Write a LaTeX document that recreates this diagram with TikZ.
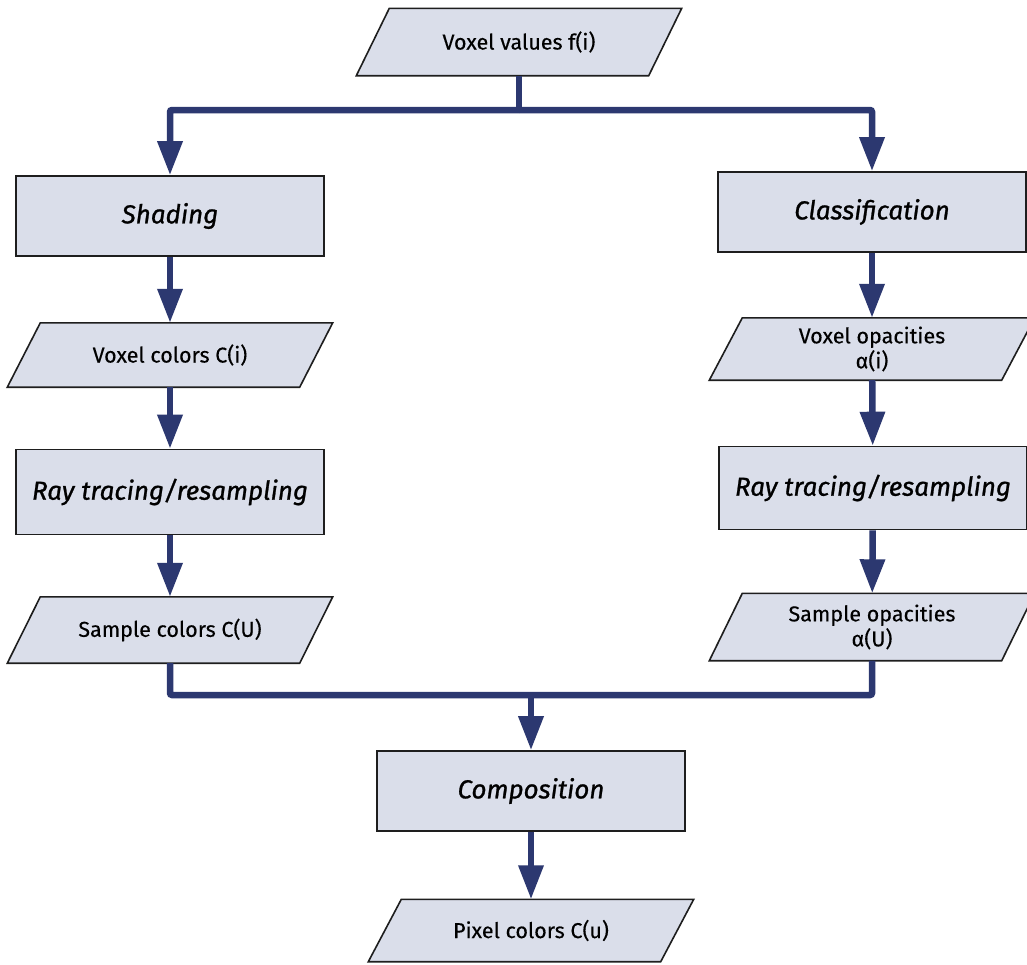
\documentclass[tikz,border=0pt]{standalone}
\usepackage{fontspec}
\setmainfont{Fira Sans}[FakeBold=0.3]
\newfontfamily\procfont{Fira Sans}[FakeBold=1.0]
\usetikzlibrary{arrows.meta,calc}
\definecolor{boxfill}{RGB}{218,222,234}
\definecolor{navy}{RGB}{44,56,112}
\definecolor{edgec}{RGB}{30,30,30}
\pgfdeclarelayer{bg}
\pgfsetlayers{bg,main}
\begin{document}
\begin{tikzpicture}[x=1pt,y=-1pt,
 proc/.style={draw=edgec, line width=1.6pt, fill=boxfill, rectangle,
   minimum width=308pt, minimum height=80pt, inner sep=0pt,
   font=\procfont\fontsize{26}{30}\selectfont\itshape},
 io/.style={rectangle, minimum width=292pt, minimum height=65pt, inner sep=0pt, align=center,
   font=\fontsize{21.5}{25}\selectfont},
 iobox/.style={draw=edgec, line width=1.6pt, fill=boxfill, line join=miter},
 conn/.style={draw=navy, line width=6.5pt, rounded corners=2pt},
 arr/.style={conn, -{Triangle[width=24pt,length=34pt]}},
]
\useasboundingbox (0,0) rectangle (1027,964);

\node[io, minimum height=67pt] (vv) at (519,42) {Voxel values f(i)};
\node[proc] (shade) at (170,216) {Shading};
\node[proc] (class) at (872,212) {Classification};
\node[io, minimum height=64pt] (vc) at (170,355) {Voxel colors C(i)};
\node[io, minimum height=62pt] (vo) at (872,349) {Voxel opacities\\α(i)};
\node[proc, minimum height=85pt] (rayl) at (170,492) {Ray tracing/resampling};
\node[proc, minimum height=83pt] (rayr) at (873,488) {Ray tracing/resampling};
\node[io, minimum height=66pt] (sc) at (170,630) {Sample colors C(U)};
\node[io, minimum height=67pt] (so) at (872,627) {Sample opacities\\α(U)};
\node[proc] (comp) at (531,791) {Composition};
\node[io, minimum height=62pt] (pc) at (531,930.5) {Pixel colors C(u)};

\begin{pgfonlayer}{bg}
\fill[white] (0,0) rectangle (1027,964);
\foreach \n in {vv,vc,vo,sc,so,pc}{
  \draw[iobox] ($(\n.north west)+(16.5,0)$) -- ($(\n.north east)+(16.5,0)$)
     -- ($(\n.south east)+(-16.5,0)$) -- ($(\n.south west)+(-16.5,0)$) -- cycle;
}
\end{pgfonlayer}

\coordinate (j1) at (vv.south |- 0,110);
\coordinate (j2) at (comp.north |- 0,695);
\draw[conn] (vv.south) -- (j1);
\draw[arr] (j1) -| (shade.north);
\draw[arr] (j1) -| (class.north);
\draw[arr] (shade) -- (vc);
\draw[arr] (vc) -- (rayl);
\draw[arr] (rayl) -- (sc);
\draw[arr] (class) -- (vo);
\draw[arr] (vo) -- (rayr);
\draw[arr] (rayr) -- (so);
\draw[conn] (sc.south) |- (j2) -| (so.south);
\draw[arr] (j2) -- (comp.north);
\draw[arr] (comp) -- (pc);
\end{tikzpicture}
\end{document}
